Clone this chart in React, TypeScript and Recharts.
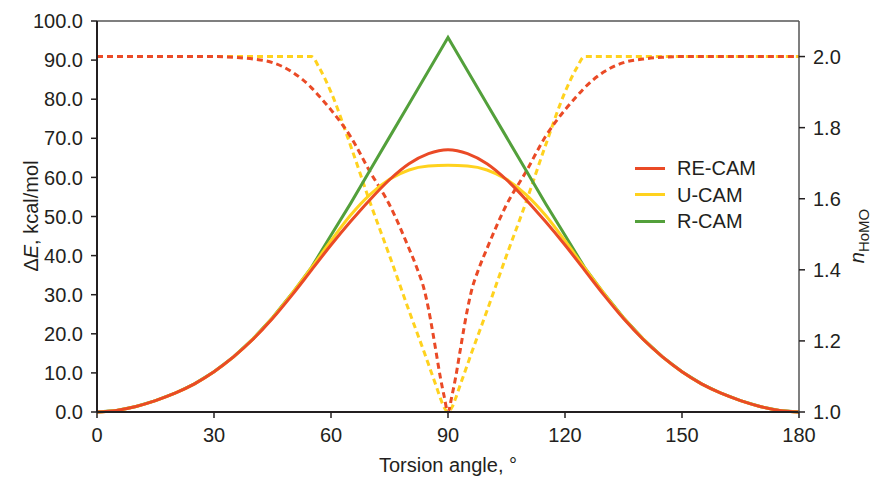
import { LineChart, Line, XAxis, YAxis, ReferenceLine } from 'recharts'

// torsion angle grid for the energy curves (left axis)
const angles = [
  0, 5, 10, 15, 20, 25, 30, 35, 40, 45, 50, 55, 60, 65, 70, 75, 80, 85, 90,
  95, 100, 105, 110, 115, 120, 125, 130, 135, 140, 145, 150, 155, 160, 165, 170, 175, 180,
]
const reCamEnergy = [
  0, 0.4, 1.4, 2.9, 4.8, 7.2, 10.3, 14.1, 18.6, 23.9, 29.9, 36.3, 42.7, 48.7, 54.3, 59.4, 63.5, 66.1, 67.1,
  66.1, 63.5, 59.4, 54.3, 48.7, 42.7, 36.3, 29.9, 23.9, 18.6, 14.1, 10.3, 7.2, 4.8, 2.9, 1.4, 0.4, 0,
]
const uCamEnergy = [
  0, 0.4, 1.4, 2.9, 4.8, 7.2, 10.3, 14.1, 18.7, 24.1, 30.3, 36.9, 43.8, 50.3, 55.6, 59.5, 61.9, 62.9, 63.1,
  62.9, 61.9, 59.5, 55.6, 50.3, 43.8, 36.9, 30.3, 24.1, 18.7, 14.1, 10.3, 7.2, 4.8, 2.9, 1.4, 0.4, 0,
]
const rCamEnergy = [
  0, 0.4, 1.4, 2.9, 4.8, 7.2, 10.3, 14.1, 18.7, 24.1, 30.3, 37.0, 45.2, 53.3, 61.8, 70.3, 78.8, 87.3, 95.8,
  87.3, 78.8, 70.3, 61.8, 53.3, 45.2, 37.0, 30.3, 24.1, 18.7, 14.1, 10.3, 7.2, 4.8, 2.9, 1.4, 0.4, 0,
]

// angle grid for the occupation numbers (right axis, dashed)
const occAngles = [
  0, 5, 10, 15, 20, 25, 30, 35, 40, 45, 50, 55, 57, 60, 65, 70, 75, 80, 82, 84, 85, 86, 87, 88, 89, 90,
  91, 92, 93, 94, 95, 96, 98, 100, 105, 110, 115, 120, 123, 125, 130, 135, 140, 145, 150, 155, 160, 165, 170, 175, 180,
]
const reCamOcc = [
  2.0, 2.0, 2.0, 2.0, 2.0, 2.0, 2.0, 1.998, 1.993, 1.983, 1.957, 1.912, 1.888, 1.85, 1.775, 1.676, 1.583, 1.46,
  1.406, 1.34, 1.29, 1.23, 1.165, 1.1, 1.045, 1.0,
  1.045, 1.1, 1.165, 1.23, 1.29, 1.34, 1.406, 1.46, 1.583, 1.676, 1.775, 1.85, 1.888, 1.912, 1.957, 1.983,
  1.993, 1.998, 2.0, 2.0, 2.0, 2.0, 2.0, 2.0, 2.0,
]
const uCamOcc = [
  2.0, 2.0, 2.0, 2.0, 2.0, 2.0, 2.0, 2.0, 2.0, 2.0, 2.0, 2.0, 1.968, 1.9, 1.75, 1.59, 1.44, 1.285,
  1.225, 1.165, 1.134, 1.103, 1.072, 1.04, 1.013, 1.0,
  1.013, 1.04, 1.072, 1.103, 1.134, 1.165, 1.225, 1.285, 1.44, 1.59, 1.75, 1.9, 1.968, 2.0, 2.0, 2.0,
  2.0, 2.0, 2.0, 2.0, 2.0, 2.0, 2.0, 2.0, 2.0,
]

const xTicks = [0, 30, 60, 90, 120, 150, 180]
const leftTicks = [0, 10, 20, 30, 40, 50, 60, 70, 80, 90, 100]
const rightTicks = [1.0, 1.2, 1.4, 1.6, 1.8, 2.0]

const RED = '#EA4A26'
const YELLOW = '#FFD21E'
const GREEN = '#53A03B'
const TEXT = '#231F20'
const FONT = '"Liberation Sans", Arial, Helvetica, sans-serif'

const legendItems = [
  { label: 'RE-CAM', color: RED },
  { label: 'U-CAM', color: YELLOW },
  { label: 'R-CAM', color: GREEN },
]

const toPoints = (xs: number[], ys: number[]) => xs.map((angle, i) => ({ angle, value: ys[i] }))

const tickStyle = { fill: TEXT, fontSize: 20, fontFamily: FONT }

export default function App() {
  return (
    <div style={{ position: 'relative', width: 874, height: 478, background: '#fff', fontFamily: FONT }}>
      <style>{'body{margin:0}'}</style>
      <LineChart width={874} height={478} margin={{ top: 21, right: 0, left: 0, bottom: 0 }}>
        <XAxis
          dataKey="angle"
          type="number"
          domain={[0, 180]}
          ticks={xTicks}
          tick={tickStyle}
          tickSize={6}
          tickMargin={10}
          height={66}
          axisLine={{ stroke: TEXT, strokeWidth: 2 }}
          tickLine={{ stroke: TEXT, strokeWidth: 1.5 }}
          label={{
            value: 'Torsion angle, °',
            position: 'insideBottom',
            offset: 6,
            fill: TEXT,
            fontSize: 20,
            fontFamily: FONT,
          }}
        />
        <YAxis
          yAxisId="left"
          domain={[0, 100]}
          ticks={leftTicks}
          width={97}
          tick={tickStyle}
          tickSize={6}
          tickMargin={8}
          tickFormatter={(v: number) => v.toFixed(1)}
          axisLine={{ stroke: TEXT, strokeWidth: 2 }}
          tickLine={{ stroke: TEXT, strokeWidth: 1.5 }}
          label={{
            content: () => (
              <text
                x={38}
                y={216}
                transform="rotate(-90, 38, 216)"
                textAnchor="middle"
                fill={TEXT}
                fontSize={20}
                fontFamily={FONT}
              >
                Δ<tspan fontStyle="italic">E</tspan>, kcal/mol
              </text>
            ),
          }}
        />
        <YAxis
          yAxisId="right"
          orientation="right"
          domain={[1, 2.1]}
          ticks={rightTicks}
          width={75}
          tick={tickStyle}
          tickSize={6}
          tickMargin={8}
          tickFormatter={(v: number) => v.toFixed(1)}
          axisLine={{ stroke: '#555', strokeWidth: 1.5 }}
          tickLine={{ stroke: TEXT, strokeWidth: 1.5 }}
          label={{
            content: () => (
              <text
                x={864}
                y={236}
                transform="rotate(-90, 864, 236)"
                textAnchor="middle"
                fill={TEXT}
                fontSize={20}
                fontFamily={FONT}
              >
                <tspan fontStyle="italic">n</tspan>
                <tspan fontSize={15} dy={5}>HoMO</tspan>
              </text>
            ),
          }}
        />
        <ReferenceLine yAxisId="left" y={100} stroke="#555" strokeWidth={1.5} />

        <Line
          yAxisId="right"
          data={toPoints(occAngles, uCamOcc)}
          dataKey="value"
          type="monotone"
          stroke={YELLOW}
          strokeWidth={3}
          strokeDasharray="6 4"
          dot={false}
          isAnimationActive={false}
        />
        <Line
          yAxisId="right"
          data={toPoints(occAngles, reCamOcc)}
          dataKey="value"
          type="monotone"
          stroke={RED}
          strokeWidth={3}
          strokeDasharray="6 4"
          dot={false}
          isAnimationActive={false}
        />
        <Line
          yAxisId="left"
          data={toPoints(angles, rCamEnergy)}
          dataKey="value"
          type="linear"
          stroke={GREEN}
          strokeWidth={3}
          dot={false}
          isAnimationActive={false}
        />
        <Line
          yAxisId="left"
          data={toPoints(angles, uCamEnergy)}
          dataKey="value"
          type="monotone"
          stroke={YELLOW}
          strokeWidth={3}
          dot={false}
          isAnimationActive={false}
        />
        <Line
          yAxisId="left"
          data={toPoints(angles, reCamEnergy)}
          dataKey="value"
          type="monotone"
          stroke={RED}
          strokeWidth={3}
          dot={false}
          isAnimationActive={false}
        />
      </LineChart>

      {/* legend */}
      <div style={{ position: 'absolute', left: 635, top: 155 }}>
        {legendItems.map(({ label, color }) => (
          <div key={label} style={{ display: 'flex', alignItems: 'center', height: 26.5 }}>
            <span style={{ display: 'inline-block', width: 30, height: 3, background: color, marginRight: 12 }} />
            <span style={{ fontSize: 20, color: TEXT, lineHeight: 1 }}>{label}</span>
          </div>
        ))}
      </div>
    </div>
  )
}
